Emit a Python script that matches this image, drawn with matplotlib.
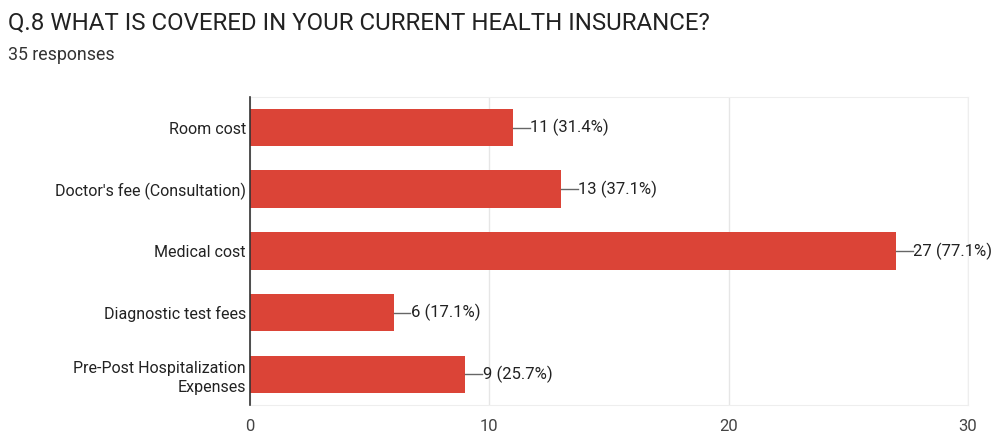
import matplotlib.pyplot as plt

plt.rcParams['font.family'] = ['Roboto', 'DejaVu Sans']

categories = ['Room cost', "Doctor's fee (Consultation)", 'Medical cost',
              'Diagnostic test fees', 'Pre-Post Hospitalization\nExpenses']
counts = [11, 13, 27, 6, 9]
percents = [31.4, 37.1, 77.1, 17.1, 25.7]
xticks = [0, 10, 20, 30]

fig = plt.figure(figsize=(10.06, 4.38), dpi=100)
ax = fig.add_axes([0.2485, 0.075, 0.7135, 0.704])

ypos = list(range(len(categories)))
ax.barh(ypos, counts, height=0.61, color='#db4437', zorder=3)

# leader line + value label for each bar
for y, c, p in zip(ypos, counts, percents):
    ax.plot([c, c + 0.7], [y, y], color='#666666', lw=1, zorder=3)
    ax.text(c + 0.72, y, f'{c} ({p}%)', va='center', ha='left',
            fontsize=12, color='#222222')

ax.set_xlim(0, 30)
ax.set_ylim(4.5, -0.5)
ax.set_xticks(xticks)
ax.set_yticks(ypos)
ax.set_yticklabels(categories, fontsize=11.5, color='#222222', linespacing=1.35)
ax.tick_params(axis='x', labelsize=12, labelcolor='#444444', length=0, pad=10)
ax.tick_params(axis='y', length=0, pad=3)
for lbl in ax.get_yticklabels():
    lbl.set_horizontalalignment('right')
    lbl.set_multialignment('right')

ax.grid(axis='x', color='#e6e6e6', lw=1, zorder=0)
for s in ['top', 'right', 'bottom']:
    ax.spines[s].set_color('#eeeeee')
ax.spines['left'].set_color('#333333')
ax.spines['left'].set_linewidth(1.2)
ax.spines['left'].set_zorder(4)

fig.text(0.008, 0.948, 'Q.8 WHAT IS COVERED IN YOUR CURRENT HEALTH INSURANCE?',
         fontsize=17.3, color='#222222', va='center')
fig.text(0.008, 0.874, '35 responses', fontsize=12.8, color='#333333', va='center')

fig.savefig('out.png', dpi=100, facecolor='white')
